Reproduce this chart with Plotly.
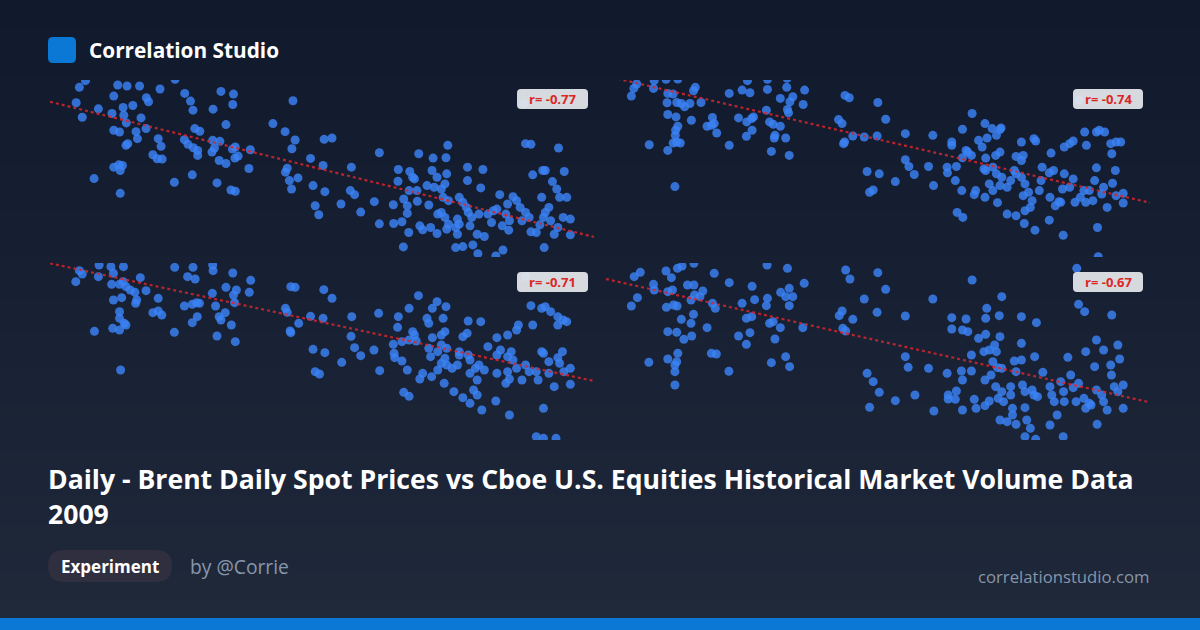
import plotly.graph_objects as go

W, H = 1200, 630

# ---------------- data (arbitrary units, y grows downward) ----
p1_pts = [(110,52),(127,32),(217,45),(243,48),(278,48),(335,57),(377,28),(404,70),(420,93),(427,120),
(483,117),(505,64),(540,72),(538,103),(706,92),(101,98),(118,141),(163,116),(206,78),(232,112),(259,106),
(297,83),(303,95),(201,130),(234,135),(282,143),(241,158),(206,180),(222,185),(268,184),(296,175),(272,205),
(245,220),(240,225),(330,205),(338,228),(315,253),(327,265),(341,266),(220,283),(206,290),(230,285),(224,300),
(151,324),(224,368),(375,335),(425,313),(494,337),(533,358),(545,362),(432,175),(446,183),(403,208),(413,222),
(428,232),(440,240),(440,255),(482,210),(502,213),(487,233),(480,245),(519,163),(545,230),(537,236),(553,257),
(544,263),(500,270),(519,279),(583,294),(587,238),(650,160),(684,184),(712,209),(703,235),(690,293),(685,305),
(720,322),(696,330),(702,355),(762,345),(795,363),(755,264),(793,207),(815,203),(790,285),(869,290),(866,360),
(878,372),(840,400),(768,405),(778,432),(895,424),(933,393),(947,247),(947,459),(986,402),(987,458),(1010,453),
(1014,528),(1029,485),(1000,297),(999,332),(1032,303),(1040,320),(1045,325),(1030,360),(1052,360),(1015,385),
(1025,405),(1025,428),(1053,392),(1060,465),(1068,477),(1090,470),(1108,488),(1085,403),(1057,250),(1097,263),
(1133,262),(1138,225),(1094,300),(1108,320),(1135,310),(1130,340),(1080,345),(1100,350),(1120,355),(1125,380),
(1140,390),(1110,430),(1130,440),(1140,460),(1165,490),(1160,470),(1170,380),(1180,395),(1190,410),(1195,425),
(1200,465),(1205,440),(1220,490),(1240,497),(1230,352),(1193,290),(1236,297),(1193,330),(1160,530),(1180,527),
(1208,522),(1222,548),(1272,555),(1292,537),(1250,430),(1275,415),(1283,372),(1290,465),(1308,478),(1305,400),
(1320,378),(1330,390),(1340,410),(1355,425),(1345,450),(1365,440),(1370,483),(1385,485),(1395,462),(1405,440),
(1410,425),(1420,410),(1425,450),(1435,490),(1445,470),(1450,380),(1460,440),(1470,380),(1480,445),(1480,492),
(1400,380),(1442,355),(1430,333),(1375,313),(1403,300),(1410,300),(1463,303),(1355,220),(1370,222),(1447,233),
(1350,100),(1407,530),(1120,425),(1165,445),(1170,460),(1135,475),(1265,420),(1225,430),(1300,430),(1310,450),
(1260,455)]

p2_pts = [(88,78),(95,55),(103,42),(150,55),(152,32),(185,28),(218,27),(190,70),(205,72),(188,98),(215,97),
(228,100),(237,110),(252,100),(283,97),(262,62),(267,52),(190,133),(213,140),(218,168),(212,180),(211,195),
(215,215),(225,218),(205,218),(190,240),(138,223),(210,348),(256,150),(300,168),(315,142),(320,160),(327,188),
(313,165),(362,225),(362,70),(398,60),(413,32),(420,68),(469,58),(469,28),(524,25),(523,52),(573,60),(569,103),
(540,80),(532,95),(525,118),(528,128),(505,85),(466,120),(388,143),(411,155),(425,145),(430,140),(426,180),
(410,198),(475,155),(485,162),(505,168),(490,195),(488,203),(520,203),(480,243),(530,255),(686,76),(698,83),
(778,97),(800,147),(668,148),(678,160),(708,197),(740,200),(776,197),(685,215),(682,220),(855,190),(932,195),
(855,268),(865,288),(880,312),(920,288),(934,345),(748,303),(782,310),(827,333),(765,358),(755,365),(972,290),
(973,307),(998,288),(995,330),(1013,360),(1048,372),(1052,360),(1078,380),(1113,396),(1000,425),(1016,440),
(985,215),(985,225),(1015,177),(1042,130),(1060,210),(1084,203),(1070,230),(1078,160),(1098,175),(1110,195),
(1120,178),(1123,173),(1025,240),(1030,245),(1040,255),(1015,262),(1080,263),(1108,255),(1120,245),(1075,295),
(1080,300),(1100,290),(1110,310),(1125,320),(1090,340),(1100,360),(1120,345),(1140,350),(1150,330),(1160,300),
(1180,270),(1165,258),(1185,255),(1180,215),(1165,310),(1180,320),(1190,340),(1185,375),(1200,365),(1210,390),
(1205,410),(1190,420),(1140,430),(1165,435),(1188,458),(1218,478),(1215,205),(1220,212),(1238,290),(1263,248),
(1258,307),(1270,300),(1260,380),(1275,405),(1285,393),(1290,395),(1300,310),(1295,355),(1315,350),(1325,325),
(1330,395),(1345,380),(1355,360),(1360,395),(1370,360),(1380,390),(1385,330),(1390,292),(1405,370),(1410,350),
(1420,410),(1435,338),(1443,300),(1445,375),(1465,368),(1465,397),(1300,230),(1315,220),(1325,212),(1362,225),
(1357,185),(1390,185),(1398,180),(1413,185),(1430,220),(1445,215),(1458,215),(1433,250),(1258,448),(1297,493),
(1393,470),(1395,557),(1342,90),(1230,360),(1235,330)]

p3_pts = [(100,80),(110,47),(118,57),(165,30),(163,65),(198,35),(205,55),(233,35),(200,88),(222,88),(232,80),
(240,95),(252,105),(265,112),(270,135),(267,145),(228,128),(205,135),(280,68),(296,107),(330,130),(315,173),
(330,168),(340,180),(222,170),(222,190),(235,205),(240,210),(203,220),(222,225),(152,229),(225,345),(376,37),
(412,65),(427,37),(433,72),(482,30),(483,47),(538,54),(588,76),(584,112),(548,105),(519,97),(540,120),(543,143),
(481,115),(490,153),(517,173),(500,185),(505,195),(534,210),(494,243),(545,260),(403,153),(425,148),(437,143),
(445,145),(439,185),(425,203),(375,232),(700,95),(712,97),(792,104),(815,130),(685,160),(690,172),(722,205),
(698,228),(700,233),(755,184),(790,190),(870,185),(945,175),(868,244),(878,278),(895,302),(932,285),(948,347),
(762,283),(795,293),(842,322),(768,350),(780,357),(1000,185),(998,217),(1030,160),(1056,122),(986,268),(988,295),
(990,308),(1010,318),(1025,345),(1060,372),(1068,355),(1093,365),(1128,385),(1015,412),(1030,424),(1010,260),
(1030,255),(1040,230),(1045,240),(1050,258),(1080,190),(1085,205),(1095,160),(1108,140),(1133,155),(1125,190),
(1095,248),(1120,240),(1130,230),(1085,280),(1090,305),(1110,290),(1120,270),(1135,280),(1130,310),(1120,325),
(1135,330),(1110,345),(1150,340),(1165,330),(1170,290),(1180,245),(1192,235),(1195,198),(1230,200),(1170,300),
(1195,300),(1200,315),(1215,340),(1225,330),(1240,345),(1200,355),(1220,375),(1210,405),(1220,420),(1180,428),
(1155,410),(1200,445),(1233,465),(1250,275),(1275,248),(1275,300),(1285,285),(1305,305),(1315,290),(1320,315),
(1305,240),(1330,225),(1335,210),(1275,355),(1300,385),(1310,372),(1305,350),(1330,340),(1345,375),(1355,330),
(1365,350),(1385,350),(1390,375),(1400,290),(1405,295),(1420,320),(1420,355),(1435,395),(1445,308),(1450,325),
(1458,290),(1462,350),(1480,340),(1480,388),(1375,210),(1370,152),(1400,160),(1410,155),(1425,170),(1445,185),
(1445,210),(1460,195),(1470,200),(1272,438),(1310,480),(1405,460),(1385,545),(1405,550),(1440,550),(1355,65)]

p4_pts = [(88,153),(96,65),(105,128),(113,52),(150,88),(152,105),(185,48),(200,68),(190,110),(203,105),(217,40),
(230,33),(245,90),(263,90),(263,25),(255,135),(280,125),(288,108),(265,120),(186,157),(206,150),(216,153),
(228,193),(255,205),(262,178),(257,243),(235,253),(190,230),(215,232),(300,218),(320,55),(362,83),(315,145),
(323,160),(137,322),(190,312),(218,295),(215,320),(210,330),(210,350),(210,390),(312,295),(326,297),(361,349),
(398,145),(410,190),(425,185),(388,243),(420,233),(410,268),(426,94),(433,134),(468,30),(469,130),(466,152),
(506,112),(525,40),(530,100),(520,125),(540,125),(530,152),(572,85),(475,205),(485,200),(505,218),(490,252),
(568,218),(480,323),(520,305),(531,335),(688,45),(700,72),(778,53),(800,103),(740,132),(670,182),(678,168),
(708,193),(680,220),(688,228),(776,172),(855,183),(932,132),(855,305),(863,337),(920,340),(972,355),(882,420),
(748,355),(765,380),(782,412),(827,437),(755,457),(935,468),(985,188),(985,222),(1025,192),(1015,225),(1030,230),
(1042,75),(1080,190),(1083,160),(1118,182),(1125,125),(1120,245),(1080,238),(1060,250),(1040,300),(1075,290),
(1090,285),(1105,270),(1110,290),(1100,320),(1113,338),(1125,340),(1160,318),(1180,265),(1180,315),(1180,185),
(1222,203),(1217,305),(1165,350),(1012,348),(1040,348),(1015,375),(1078,375),(1095,360),(975,420),(975,432),
(998,408),(995,433),(1015,465),(1048,433),(1053,460),(1078,452),(1090,438),(1108,395),(1115,430),(1125,410),
(1130,440),(1150,395),(1150,420),(1155,460),(1155,480),(1120,495),(1140,500),(1165,508),(1190,458),(1183,390),
(1190,410),(1210,405),(1215,420),(1225,425),(1195,495),(1205,520),(1190,545),(1220,553),(1240,352),(1260,395),
(1265,420),(1272,440),(1280,480),(1260,510),(1290,380),(1298,410),(1300,440),(1297,545),(1310,307),(1318,360),
(1325,398),(1333,440),(1340,385),(1355,430),(1360,460),(1370,445),(1375,450),(1385,335),(1390,405),(1392,508),
(1405,420),(1410,440),(1420,465),(1390,255),(1360,290),(1410,285),(1430,330),(1432,360),(1440,395),(1450,410),
(1465,390),(1465,460),(1450,270),(1455,312),(1433,180),(1340,148),(1357,170),(1335,40)]

# trend lines: (x_start, y_start, x_end, y_end)
trend_lines = [(28, 95, 1546, 498), (17, 18, 1540, 396), (28, 25, 1546, 378), (17, 72, 1540, 442)]
r_values = ["-0.77", "-0.74", "-0.71", "-0.67"]

# axis windows for each panel (x range, y range top->bottom)
x_ranges = [(28, 1546), (17, 1540), (28, 1546), (17, 1540)]
y_ranges = [(30, 558), (30, 558), (24, 555), (24, 555)]

panels = [p1_pts, p2_pts, p3_pts, p4_pts]

# ---------------- layout geometry ----------------
col_px = [(50, 594), (606, 1150)]
row_px = [(80, 257), (263, 440)]

fig = go.Figure()

BLUE = "rgba(59,130,246,0.82)"
for i, pts in enumerate(panels):
    ax = "" if i == 0 else str(i + 1)
    xs = [p[0] for p in pts]
    ys = [p[1] for p in pts]
    fig.add_trace(go.Scatter(x=xs, y=ys, mode="markers", xaxis="x" + ax, yaxis="y" + ax,
                             marker=dict(size=9, color=BLUE, line=dict(width=0)),
                             hoverinfo="skip", showlegend=False))
    t = trend_lines[i]
    fig.add_trace(go.Scatter(x=[t[0], t[2]], y=[t[1], t[3]], mode="lines", xaxis="x" + ax, yaxis="y" + ax,
                             line=dict(color="rgba(215,38,45,0.85)", width=2.2, dash="3px,3px"),
                             hoverinfo="skip", showlegend=False))

layout = dict(width=W, height=H, margin=dict(l=0, r=0, t=0, b=0),
              paper_bgcolor="#131b2e", plot_bgcolor="rgba(0,0,0,0)", showlegend=False)
for i in range(4):
    c = col_px[i % 2]
    r = row_px[i // 2]
    ax = "" if i == 0 else str(i + 1)
    layout["xaxis" + ax] = dict(domain=[c[0] / W, c[1] / W], range=list(x_ranges[i]), visible=False,
                                fixedrange=True, anchor="y" + ax)
    layout["yaxis" + ax] = dict(domain=[1 - r[1] / H, 1 - r[0] / H], range=[y_ranges[i][1], y_ranges[i][0]],
                                visible=False, fixedrange=True, anchor="x" + ax)
fig.update_layout(**layout)

shapes = []
# background gradient (vertical)
top = (17, 25, 44)
bot = (31, 41, 58)
N = 42
for k in range(N):
    f = k / (N - 1)
    col = tuple(round(top[j] + (bot[j] - top[j]) * f) for j in range(3))
    shapes.append(dict(type="rect", xref="paper", yref="paper", x0=0, x1=1,
                       y0=1 - (k + 1) / N - 0.002, y1=1 - k / N, line=dict(width=0),
                       fillcolor="rgb(%d,%d,%d)" % col, layer="below"))

def rrect(x0, y0, x1, y1, rad, color, layer="above"):
    # rounded rectangle in pixel space converted to paper coords
    X0, X1 = x0 / W, x1 / W
    Y0, Y1 = 1 - y1 / H, 1 - y0 / H
    rx, ry = rad / W, rad / H
    path = (f"M {X0+rx},{Y0} L {X1-rx},{Y0} Q {X1},{Y0} {X1},{Y0+ry} L {X1},{Y1-ry} Q {X1},{Y1} {X1-rx},{Y1} "
            f"L {X0+rx},{Y1} Q {X0},{Y1} {X0},{Y1-ry} L {X0},{Y0+ry} Q {X0},{Y0} {X0+rx},{Y0} Z")
    return dict(type="path", xref="paper", yref="paper", path=path, fillcolor=color,
                line=dict(width=0), layer=layer)

# logo square
shapes.append(rrect(48, 37, 76, 63, 5, "#0a78d4"))
# bottom bar
shapes.append(dict(type="rect", xref="paper", yref="paper", x0=0, x1=1, y0=0, y1=12 / H,
                   fillcolor="#0a78d4", line=dict(width=0)))
# pill
shapes.append(rrect(48, 550, 172, 582, 16, "#302f3f"))
# r label boxes
label_boxes = [(517, 89, 588, 109), (1073, 89, 1143, 109), (517, 272, 588, 292), (1073, 272, 1143, 292)]
for b in label_boxes:
    shapes.append(rrect(b[0], b[1], b[2], b[3], 4, "rgba(229,231,235,0.93)"))

annotations = []
for b, r in zip(label_boxes, r_values):
    annotations.append(dict(xref="paper", yref="paper", x=(b[0] + b[2]) / 2 / W, y=1 - (b[1] + b[3]) / 2 / H,
                            text="<b>r= " + r + "</b>", showarrow=False, xanchor="center", yanchor="middle",
                            font=dict(family="Open Sans", size=13, color="#dc2626")))

annotations.append(dict(xref="paper", yref="paper", x=87 / W, y=1 - 50 / H, xanchor="left", yanchor="middle",
                        text="<b>Correlation Studio</b>", showarrow=False,
                        font=dict(family="Open Sans", size=20.8, color="#ffffff")))
annotations.append(dict(xref="paper", yref="paper", x=46 / W, y=1 - 496 / H, xanchor="left", yanchor="middle",
                        align="left",
                        text="<b>Daily - Brent Daily Spot Prices vs Cboe U.S. Equities Historical Market Volume Data<br>2009</b>",
                        showarrow=False, font=dict(family="Open Sans", size=26.6, color="#ffffff")))
annotations.append(dict(xref="paper", yref="paper", x=110 / W, y=1 - 566 / H, xanchor="center", yanchor="middle",
                        text="<b>Experiment</b>", showarrow=False,
                        font=dict(family="Open Sans", size=17, color="#ffffff")))
annotations.append(dict(xref="paper", yref="paper", x=188 / W, y=1 - 566 / H, xanchor="left", yanchor="middle",
                        text="by @Corrie", showarrow=False,
                        font=dict(family="Open Sans", size=19.3, color="#8796ab")))
annotations.append(dict(xref="paper", yref="paper", x=1151 / W, y=1 - 576 / H, xanchor="right", yanchor="middle",
                        text="correlationstudio.com", showarrow=False,
                        font=dict(family="Open Sans", size=16.7, color="#8796ab")))

fig.update_layout(shapes=shapes, annotations=annotations)
fig.write_html("out.html", config={"displayModeBar": False},
               post_script="document.body.style.margin='0';document.body.style.background='#131b2e';")
